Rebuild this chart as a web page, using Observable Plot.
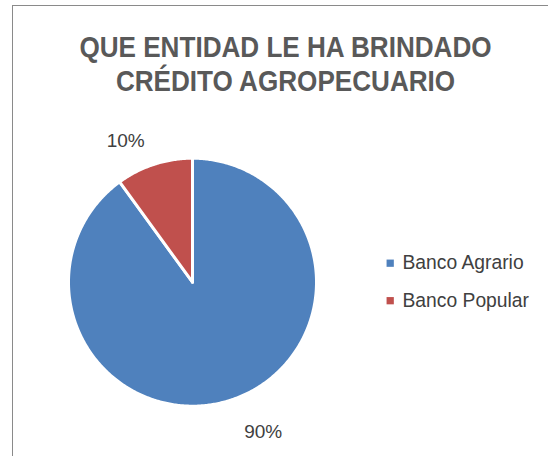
<!DOCTYPE html>
<html><head><meta charset="utf-8">
<script src="https://cdn.jsdelivr.net/npm/d3@7"></script>
<script src="https://cdn.jsdelivr.net/npm/@observablehq/plot@0.6"></script>
<style>
html,body{margin:0;padding:0;background:#fff;overflow:hidden;width:548px;height:456px;}
#wrap{position:relative;width:548px;height:456px;}
#frame{position:absolute;left:12px;top:5px;width:600px;height:500px;border:1.5px solid #8a8a8a;box-sizing:border-box;pointer-events:none;}
svg{position:absolute;left:0;top:0;}
</style></head>
<body><div id="wrap"><div id="frame"></div></div>
<script>
const categories = ["Banco Agrario", "Banco Popular"];
const values = [90, 10];
const labels = ["90%", "10%"];
const titleLines = ["QUE ENTIDAD LE HA BRINDADO", "CRÉDITO AGROPECUARIO"];
const colors = ["#4F81BD", "#C0504D"];

const FONT = "'Liberation Sans Narrow', 'Arial Narrow', 'Liberation Sans', Arial, sans-serif";

const total = d3.sum(values);
const pts = [];
const mids = [];
let start = 0;
values.forEach((v, i) => {
  const a0 = start / total * 2 * Math.PI;
  const a1 = (start + v) / total * 2 * Math.PI;
  pts.push({cat: categories[i], x: 0, y: 0});
  const n = Math.max(8, Math.ceil((a1 - a0) / 0.01));
  for (let k = 0; k <= n; k++) {
    const a = a0 + (a1 - a0) * k / n;
    pts.push({cat: categories[i], x: Math.sin(a), y: Math.cos(a)});
  }
  pts.push({cat: categories[i], x: 0, y: 0});
  mids.push((a0 + a1) / 2);
  start += v;
});

const labelData = categories.map((c, i) => ({
  cat: c, label: labels[i],
  x: 1.22 * Math.sin(mids[i]), y: 1.22 * Math.cos(mids[i])
}));
const nudge = {"Banco Agrario": [24, 6], "Banco Popular": [-20, 3]};
const titleDx = [11, 11];
const titleDy = [46.5, 81];

const cx = 192, cy = 281.7, R = 124;

const chart = Plot.plot({
  width: 548, height: 456,
  margin: 0,
  x: {domain: [-1, 1], range: [cx - R, cx + R], axis: null},
  y: {domain: [-1, 1], range: [cy + R, cy - R], axis: null},
  color: {domain: categories, range: colors},
  style: {background: "transparent", fontFamily: FONT},
  marks: [
    Plot.line(pts, {x: "x", y: "y", z: "cat", fill: "cat", stroke: "white", strokeWidth: 3, strokeLinejoin: "round", curve: "linear"}),
    ...labelData.map(d => Plot.text([d], {x: "x", y: "y", text: "label", fill: "#404040", fontSize: 19, dx: nudge[d.cat][0], dy: nudge[d.cat][1]})),
    ...titleLines.map((t, i) => Plot.text([t], {frameAnchor: "top", text: d => d, dx: titleDx[i], dy: titleDy[i], fontSize: 30, fontWeight: "bold", fill: "#595959", lineAnchor: "middle", className: "title-line"})),
    ...categories.map((c, i) => Plot.dot([c], {frameAnchor: "top-left", dx: 389.7, dy: 262.7 + i * 37.5, symbol: "square", r: 4.1, fill: d => d, stroke: null})),
    ...categories.map((c, i) => Plot.text([c], {frameAnchor: "top-left", text: d => d, dx: 402, dy: 262.5 + i * 37.5, fontSize: 19.3, fill: "#404040", textAnchor: "start", lineAnchor: "middle"}))
  ]
});
document.getElementById("wrap").appendChild(chart);
// condense the title horizontally (narrow face is not installed)
chart.querySelectorAll(".title-line text").forEach(t => {
  const b = t.getBBox();
  const c = b.x + b.width / 2;
  const tr = t.getAttribute("transform") || "";
  t.setAttribute("transform", `${tr} translate(${c},0) scale(0.87,1) translate(${-c},0)`);
});
</script></body></html>
